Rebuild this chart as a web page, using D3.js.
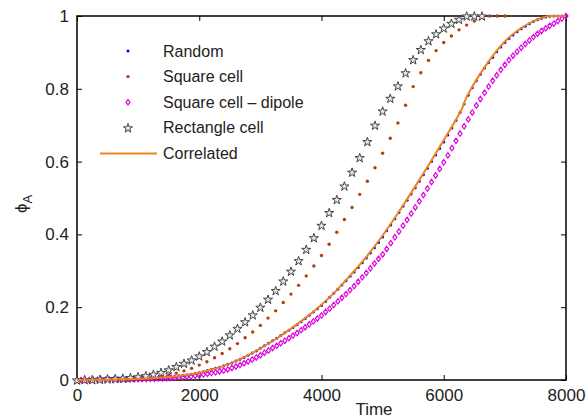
<!DOCTYPE html>
<html lang="en">
<head>
<meta charset="UTF-8">
<title>phi_A vs Time</title>
<script src="https://cdn.jsdelivr.net/npm/d3@7"></script>
<style>
    body { margin: 0; background: #fff; }
    svg { display: block; font-family: "Liberation Sans", Arial, Helvetica, sans-serif; }
    .tick text { font-size: 17px; fill: #222; }
    .legend text { font-size: 16px; fill: #222; }
</style>
</head>
<body>
<script>
    // sampling grids (time)
    const denseStep = 8000 / 120;   // Random, Square cell - dipole
    const coarseStep = 125;         // Square cell, Rectangle cell

    const randomVals = [
        0, 0.0001, 0.0002, 0.0003, 0.0005, 0.0006, 0.0008, 0.001, 0.0011, 0.0013,
        0.0016, 0.0019, 0.0022, 0.0025, 0.0028, 0.003, 0.0035, 0.004, 0.0045, 0.005,
        0.0058, 0.0066, 0.0075, 0.0085, 0.0096, 0.011, 0.0125, 0.014, 0.016, 0.018,
        0.02, 0.023, 0.026, 0.029, 0.032, 0.035, 0.039, 0.043, 0.047, 0.052,
        0.057, 0.062, 0.068, 0.074, 0.080, 0.087, 0.094, 0.101, 0.108, 0.115,
        0.122, 0.13, 0.137, 0.144, 0.152, 0.16, 0.169, 0.178, 0.187, 0.196,
        0.205, 0.216, 0.227, 0.238, 0.249, 0.261, 0.273, 0.285, 0.297, 0.309,
        0.322, 0.335, 0.349, 0.363, 0.378, 0.393, 0.41, 0.426, 0.443, 0.46,
        0.477, 0.494, 0.511, 0.528, 0.546, 0.564, 0.582, 0.6, 0.618, 0.636,
        0.654, 0.673, 0.692, 0.713, 0.735, 0.758, 0.782, 0.803, 0.822, 0.84,
        0.857, 0.872, 0.886, 0.902, 0.915, 0.927, 0.938, 0.948, 0.957, 0.965,
        0.972, 0.979, 0.985, 0.99, 0.994, 0.997, 0.999, 1, 1, 1, 1
    ];

    const dipoleVals = [
        0, 0, 0.0001, 0.0001, 0.0002, 0.0003, 0.0004, 0.0005, 0.0006, 0.0007,
        0.0009, 0.0011, 0.0013, 0.0015, 0.0017, 0.002, 0.0023, 0.0026, 0.003, 0.0034,
        0.0038, 0.0043, 0.0049, 0.0056, 0.0063, 0.0071, 0.008, 0.009, 0.01, 0.0115,
        0.013, 0.015, 0.017, 0.019, 0.021, 0.0235, 0.026, 0.029, 0.033, 0.037,
        0.041, 0.046, 0.051, 0.056, 0.062, 0.068, 0.075, 0.081, 0.088, 0.094,
        0.101, 0.108, 0.115, 0.122, 0.129, 0.137, 0.145, 0.153, 0.161, 0.169,
        0.177, 0.187, 0.196, 0.206, 0.216, 0.226, 0.236, 0.247, 0.258, 0.27,
        0.282, 0.294, 0.307, 0.32, 0.333, 0.345, 0.36, 0.376, 0.392, 0.408,
        0.424, 0.44, 0.457, 0.474, 0.491, 0.508, 0.526, 0.544, 0.562, 0.58,
        0.598, 0.617, 0.637, 0.657, 0.677, 0.697, 0.716, 0.735, 0.754, 0.772,
        0.789, 0.806, 0.822, 0.837, 0.852, 0.866, 0.879, 0.891, 0.902, 0.913,
        0.923, 0.933, 0.942, 0.951, 0.959, 0.966, 0.973, 0.979, 0.986, 0.993, 1
    ];

    const squareVals = [
        0, 0, 0, 0.001, 0.001, 0.002, 0.003, 0.004, 0.005, 0.007,
        0.009, 0.011, 0.014, 0.019, 0.025, 0.032, 0.041, 0.05, 0.061, 0.073,
        0.086, 0.1, 0.116, 0.132, 0.15, 0.17, 0.19, 0.213, 0.236, 0.26,
        0.286, 0.313, 0.342, 0.373, 0.406, 0.441, 0.474, 0.51, 0.546, 0.583,
        0.623, 0.664, 0.706, 0.755, 0.806, 0.844, 0.878, 0.905, 0.927, 0.945,
        0.962, 0.975, 0.986, 0.996, 1, 1, 1
    ];

    const rectVals = [
        0, 0.001, 0.001, 0.002, 0.003, 0.004, 0.005, 0.007, 0.009, 0.012,
        0.016, 0.021, 0.028, 0.037, 0.046, 0.055, 0.066, 0.078, 0.093, 0.107,
        0.124, 0.142, 0.16, 0.179, 0.2, 0.222, 0.246, 0.272, 0.299, 0.328,
        0.359, 0.391, 0.425, 0.46, 0.496, 0.533, 0.571, 0.611, 0.655, 0.7,
        0.739, 0.774, 0.808, 0.844, 0.88, 0.908, 0.932, 0.951, 0.967, 0.98,
        0.991, 1, 1, 1
    ];

    const corrTimes = [0, 250, 500, 750, 1000, 1250, 1500, 1750, 2000, 2250, 2500, 2750,
        3000, 3250, 3500, 3750, 4000, 4250, 4500, 4750, 5000, 5250, 5500, 5750,
        6000, 6250, 6300, 6340, 6500, 6750, 7000, 7250, 7500, 7750, 8000];
    const corrVals = [0, 0.0004, 0.001, 0.002, 0.003, 0.005, 0.008, 0.013, 0.02, 0.031, 0.045, 0.064,
        0.087, 0.112, 0.141, 0.172, 0.207, 0.247, 0.293, 0.342, 0.397, 0.458, 0.523, 0.59,
        0.659, 0.73, 0.746, 0.764, 0.815, 0.879, 0.93, 0.965, 0.988, 1, 1];

    const xTicks = [0, 2000, 4000, 6000, 8000];
    const yTicks = [0, 0.2, 0.4, 0.6, 0.8, 1];

    const legendItems = ["Random", "Square cell", "Square cell \u2013 dipole", "Rectangle cell", "Correlated"];

    const width = 588, height = 418;
    const margin = { top: 16, right: 22, bottom: 38, left: 77 };

    const svg = d3.select("body").append("svg")
        .attr("width", width)
        .attr("height", height);

    const x = d3.scaleLinear().domain([0, 8000]).range([margin.left, width - margin.right]);
    const y = d3.scaleLinear().domain([0, 1]).range([height - margin.bottom, margin.top]);

    const toPts = (vals, step) => vals.map((v, i) => ({ t: i * step, v }));
    const randomPts = toPts(randomVals, denseStep);
    const dipolePts = toPts(dipoleVals, denseStep);
    const squarePts = toPts(squareVals, coarseStep);
    const rectPts = toPts(rectVals, coarseStep);
    const corrPts = corrTimes.map((t, i) => ({ t, v: corrVals[i] }));

    // axes (ticks inward on all four sides, MATLAB style)
    const tickLen = 5;
    svg.append("g")
        .attr("transform", `translate(0,${y(0)})`)
        .call(d3.axisBottom(x).tickValues(xTicks).tickSize(-tickLen).tickPadding(9).tickFormat(d3.format("d")))
        .call(g => g.select(".domain").remove());
    svg.append("g")
        .attr("transform", `translate(0,${y(1)})`)
        .call(d3.axisTop(x).tickValues(xTicks).tickSize(-tickLen).tickFormat(""))
        .call(g => g.select(".domain").remove());
    svg.append("g")
        .attr("transform", `translate(${x(0)},0)`)
        .call(d3.axisLeft(y).tickValues(yTicks).tickSize(-tickLen).tickPadding(8).tickFormat(d => d3.format("~g")(d)))
        .call(g => g.select(".domain").remove());
    svg.append("g")
        .attr("transform", `translate(${x(8000)},0)`)
        .call(d3.axisRight(y).tickValues(yTicks).tickSize(-tickLen).tickFormat(""))
        .call(g => g.select(".domain").remove());

    svg.selectAll(".tick line").attr("stroke", "#000").attr("stroke-width", 1);

    svg.append("rect")
        .attr("x", x(0)).attr("y", y(1))
        .attr("width", x(8000) - x(0)).attr("height", y(0) - y(1))
        .attr("fill", "none").attr("stroke", "#000").attr("stroke-width", 1.5);

    // axis labels
    svg.append("text")
        .attr("x", 374).attr("y", 415)
        .attr("text-anchor", "middle")
        .attr("font-size", 17).attr("fill", "#222")
        .text("Time");

    const ylab = svg.append("text")
        .attr("transform", "translate(27,204) rotate(-90)")
        .attr("text-anchor", "middle")
        .attr("font-size", 17).attr("fill", "#222");
    ylab.append("tspan").text("\u03d5");
    ylab.append("tspan").attr("dy", 5).attr("font-size", 13).text("A");

    const colors = {
        random: "#0000ff",
        square: "#b3400b",
        dipole: "#e000e0",
        rect: "#444444",
        corr: "#ee8418"
    };

    const star = d3.symbol().type(d3.symbolStar).size(26);
    const diamondPath = "M0,-2.7L2,0L0,2.7L-2,0Z";

    // Random
    svg.append("g").selectAll("circle")
        .data(randomPts).enter().append("circle")
        .attr("cx", d => x(d.t)).attr("cy", d => y(d.v))
        .attr("r", 1.5).attr("fill", colors.random);

    // Square cell
    svg.append("g").selectAll("circle")
        .data(squarePts).enter().append("circle")
        .attr("cx", d => x(d.t)).attr("cy", d => y(d.v))
        .attr("r", 1.7).attr("fill", colors.square);

    // Square cell - dipole
    svg.append("g").selectAll("path")
        .data(dipolePts).enter().append("path")
        .attr("d", diamondPath)
        .attr("transform", d => `translate(${x(d.t)},${y(d.v)})`)
        .attr("fill", "none").attr("stroke", colors.dipole).attr("stroke-width", 1.2);

    // Rectangle cell
    svg.append("g").selectAll("path")
        .data(rectPts).enter().append("path")
        .attr("d", star)
        .attr("transform", d => `translate(${x(d.t)},${y(d.v) + 0.5})`)
        .attr("fill", "#e8e8e8").attr("stroke", colors.rect).attr("stroke-width", 1);

    // Correlated
    svg.append("path")
        .datum(corrPts)
        .attr("d", d3.line().x(d => x(d.t)).y(d => y(d.v)).curve(d3.curveMonotoneX))
        .attr("fill", "none").attr("stroke", colors.corr).attr("stroke-width", 2);

    // legend
    const legend = svg.append("g").attr("class", "legend");
    const rowY = i => 51 + i * 25.6;
    legendItems.forEach((label, i) => {
        legend.append("text")
            .attr("x", 163).attr("y", rowY(i)).attr("dy", "0.35em")
            .text(label);
    });
    legend.append("circle").attr("cx", 128).attr("cy", rowY(0)).attr("r", 1.5).attr("fill", colors.random);
    legend.append("circle").attr("cx", 128).attr("cy", rowY(1)).attr("r", 1.7).attr("fill", colors.square);
    legend.append("path").attr("d", diamondPath)
        .attr("transform", `translate(128,${rowY(2)})`)
        .attr("fill", "none").attr("stroke", colors.dipole).attr("stroke-width", 1.2);
    legend.append("path").attr("d", star)
        .attr("transform", `translate(128,${rowY(3) + 0.5})`)
        .attr("fill", "#e8e8e8").attr("stroke", colors.rect).attr("stroke-width", 1);
    legend.append("line")
        .attr("x1", 100).attr("x2", 157).attr("y1", rowY(4)).attr("y2", rowY(4))
        .attr("stroke", colors.corr).attr("stroke-width", 2);
</script>
</body>
</html>
